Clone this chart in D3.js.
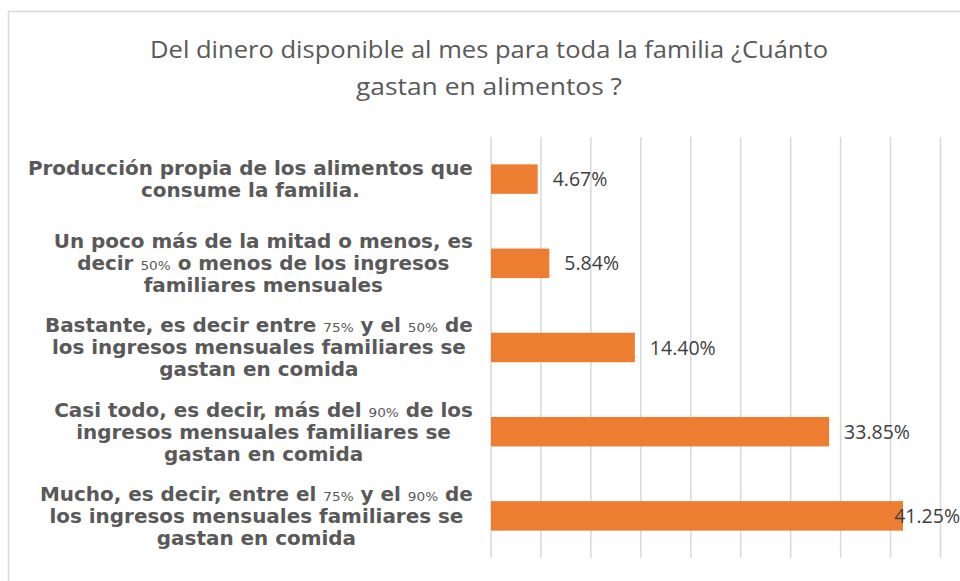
<!DOCTYPE html>
<html>
<head>
<meta charset="utf-8">
<script src="https://cdn.jsdelivr.net/npm/d3@7"></script>
<style>
  body { margin: 0; background: #fff; }
  svg { display: block; }
</style>
</head>
<body>
<svg id="chart" width="960" height="581"></svg>
<script>
var titleLines = ['Del dinero disponible al mes para toda la familia ¿Cuánto', 'gastan en alimentos ?'];

var categories = [
    ['Producción propia de los alimentos que', 'consume la familia.'],
    ['Un poco más de la mitad o menos, es', 'decir 50% o menos de los ingresos', 'familiares mensuales'],
    ['Bastante, es decir entre 75% y el 50% de', 'los ingresos mensuales familiares se', 'gastan en comida'],
    ['Casi todo, es decir, más del 90% de los', 'ingresos mensuales familiares se', 'gastan en comida'],
    ['Mucho, es decir, entre el 75% y el 90% de', 'los ingresos mensuales familiares se', 'gastan en comida']
];

var values = [4.67, 5.84, 14.40, 33.85, 41.25];
var ticks = [0, 5, 10, 15, 20, 25, 30, 35, 40, 45];

var svg = d3.select('#chart');

// chart frame (cropped at right and bottom)
svg.append('rect')
    .attr('x', 8.5)
    .attr('y', 11.5)
    .attr('width', 970)
    .attr('height', 600)
    .attr('fill', '#fff')
    .attr('stroke', '#d9d9d9')
    .attr('stroke-width', 1.5);

var x = d3.scaleLinear()
    .domain([0, 45])
    .range([491, 940.5]);

var y = d3.scaleBand()
    .domain(d3.range(categories.length))
    .range([137, 558])
    .paddingInner(0.65)
    .paddingOuter(0.325);

// title
var titleWidths = [678, 266];
svg.append('g')
    .selectAll('text')
    .data(titleLines)
    .enter()
    .append('text')
    .attr('x', 489)
    .attr('y', function(d, i) { return 58 + i * 37; })
    .attr('text-anchor', 'middle')
    .attr('font-family', '"Open Sans", sans-serif')
    .attr('font-size', 23)
    .attr('fill', '#595959')
    .attr('textLength', function(d, i) { return titleWidths[i]; })
    .attr('lengthAdjust', 'spacingAndGlyphs')
    .text(function(d) { return d; });

// gridlines
svg.append('g')
    .selectAll('line')
    .data(ticks)
    .enter()
    .append('line')
    .attr('x1', function(d) { return x(d); })
    .attr('x2', function(d) { return x(d); })
    .attr('y1', 137)
    .attr('y2', 558)
    .attr('stroke', '#d9d9d9')
    .attr('stroke-width', 1.5);

// bars
svg.append('g')
    .selectAll('rect')
    .data(values)
    .enter()
    .append('rect')
    .attr('x', x(0))
    .attr('y', function(d, i) { return y(i); })
    .attr('width', function(d) { return x(d) - x(0); })
    .attr('height', y.bandwidth())
    .attr('fill', '#ed7d31');

// value labels, pulled back inside the frame when they would run off
svg.append('g')
    .selectAll('text')
    .data(values)
    .enter()
    .append('text')
    .attr('y', function(d, i) { return y(i) + y.bandwidth() / 2; })
    .attr('dy', '0.36em')
    .attr('font-family', '"Open Sans", sans-serif')
    .attr('font-size', 19.5)
    .attr('fill', '#404040')
    .text(function(d) { return d.toFixed(2) + '%'; })
    .attr('x', function(d) {
        var w = this.getComputedTextLength();
        return Math.min(x(d) + 15, 960 - w);
    });

// category labels: lines centred within the block, block right-aligned
var lineH = 22;
var labelRight = 473;
var stretch = 1.05;
var labels = svg.append('g');
categories.forEach(function(lines, i) {
    var g = labels.append('g');
    var cy = y(i) + y.bandwidth() / 2;
    var texts = lines.map(function(line, j) {
        var t = g.append('text')
            .attr('x', 0)
            .attr('y', cy + (j - (lines.length - 1) / 2) * lineH)
            .attr('dy', '0.36em')
            .attr('text-anchor', 'middle')
            .attr('font-family', '"DejaVu Sans", sans-serif')
            .attr('font-weight', 'bold')
            .attr('font-size', 19)
            .attr('fill', '#595959');
        line.split(/(\d+%)/).forEach(function(part) {
            if (!part) return;
            var ts = t.append('tspan').text(part);
            if (/\d+%/.test(part)) ts.attr('font-size', 13).attr('font-weight', 'normal');
        });
        return t;
    });
    var maxW = d3.max(texts, function(t) { return t.node().getComputedTextLength(); }) * stretch;
    g.attr('transform', 'translate(' + (labelRight - maxW / 2) + ',0) scale(' + stretch + ',1)');
});
</script>
</body>
</html>
